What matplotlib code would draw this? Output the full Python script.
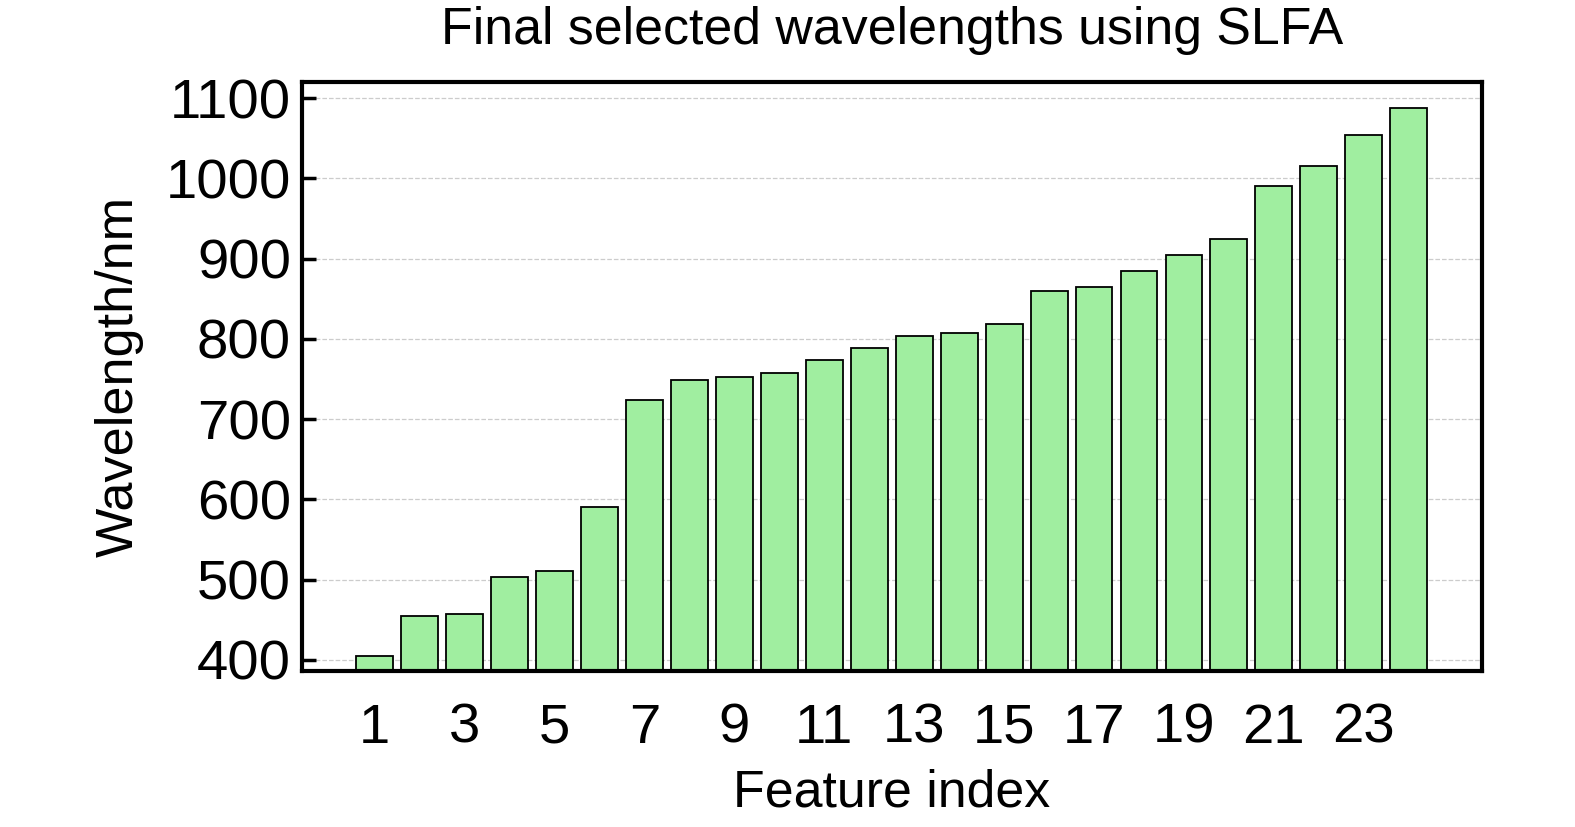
import matplotlib
matplotlib.use('Agg')
import matplotlib.pyplot as plt

# Daten
feature_index = list(range(1, 25))
wavelengths = [405, 454, 457, 503, 511, 590, 724, 749, 752, 757, 773, 788,
               803, 807, 818, 860, 864, 884, 904, 924, 991, 1015, 1054, 1088]
x_ticks = list(range(1, 24, 2))
y_ticks = list(range(400, 1101, 100))

plt.rcParams['font.family'] = ['Liberation Sans', 'DejaVu Sans']

fig = plt.figure(figsize=(15.75, 8.27), dpi=100)
ax = fig.add_axes([302 / 1575, 1 - 671 / 827, (1482 - 302) / 1575, (671 - 82) / 827])

ax.bar(feature_index, wavelengths, width=0.82, color='#a0eea0',
       edgecolor='black', linewidth=1.3, zorder=2)

ax.set_xlim(-0.62, 25.63)
ax.set_ylim(386, 1120)
ax.set_xticks(x_ticks)
ax.set_yticks(y_ticks)

ax.yaxis.grid(True, linestyle='--', color='#cccccc', linewidth=0.9, zorder=0)
ax.set_axisbelow(True)

for s in ax.spines.values():
    s.set_linewidth(3)
    s.set_zorder(3)

ax.tick_params(axis='both', direction='in', length=10, width=2.5, labelsize=40.5)
ax.tick_params(axis='y', pad=8)
ax.tick_params(axis='x', pad=23)
for t in ax.xaxis.get_major_ticks():
    t.tick1line.set_zorder(4)

ax.set_title('Final selected wavelengths using SLFA', fontsize=37.4, pad=27)
ax.set_xlabel('Feature index', fontsize=37.4, labelpad=10)
ax.set_ylabel('Wavelength/nm', fontsize=37.6, labelpad=16)

fig.savefig('out.png', dpi=100)
